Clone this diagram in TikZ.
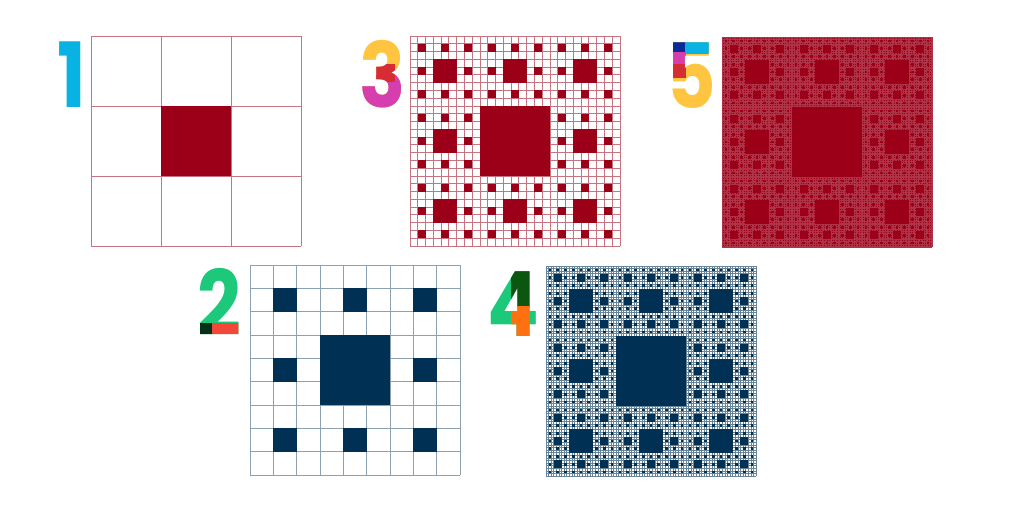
\documentclass[tikz,border=0pt]{standalone}
\usepackage{fontspec}
\usetikzlibrary{positioning,calc}
\newfontfamily\numfont{Poppins}
\definecolor{crimson}{RGB}{155,0,24}
\definecolor{navy}{RGB}{0,48,84}
\definecolor{cyan}{RGB}{8,178,226}
\definecolor{sun}{RGB}{255,197,64}
\definecolor{magenta}{RGB}{214,62,176}
\definecolor{tomato}{RGB}{214,44,52}
\definecolor{royal}{RGB}{12,42,150}
\definecolor{mint}{RGB}{28,200,122}
\definecolor{forest}{RGB}{6,48,24}
\definecolor{coral}{RGB}{242,72,58}
\definecolor{leaf}{RGB}{12,86,16}
\definecolor{orange}{RGB}{255,112,16}
\newcommand\digit[1]{\scalebox{0.85}[1]{#1}}
\tikzset{
  panel/.style={draw=none,inner sep=0pt,minimum size=210pt,anchor=south west},
  numeral/.style={font=\numfont\bfseries\fontsize{90}{90}\selectfont,inner sep=0pt,anchor=base east},
  redgrid/.style={draw=crimson!55,line width=0.8pt},
  bluegrid/.style={draw=navy!45,line width=0.8pt},
  redhole/.style={fill=crimson},
  bluehole/.style={fill=navy}
}
% grid of a carpet: lower left x, y, number of cells
\newcommand\carpetgrid[3]{%
  \pgfmathsetmacro\cellside{210/#3}%
  \foreach \k in {0,...,#3}{%
    \draw (#1+\k*\cellside,#2) -- ++(0,210);
    \draw (#1,#2+\k*\cellside) -- ++(210,0);
  }}
% holes of a carpet: lower left x, y, side, depth
\newcommand\carpetholes[4]{%
  \pgfmathsetmacro\holeside{#3/3}%
  \fill (#1+\holeside,#2+\holeside) rectangle ++(\holeside,\holeside);
  \ifnum#4>1
    \pgfmathtruncatemacro\holedepth{#4-1}%
    \foreach \hi in {0,1,2}{\foreach \hj in {0,1,2}{%
      \ifnum\hi\hj=11 \else
        \pgfmathsetmacro\hx{#1+\hi*\holeside}%
        \pgfmathsetmacro\hy{#2+\hj*\holeside}%
        \carpetholes{\hx}{\hy}{\holeside}{\holedepth}%
      \fi}}%
  \fi}
\begin{document}
\begin{tikzpicture}[x=1pt,y=1pt]
  \useasboundingbox (0,0) rectangle (1024,512);
  % panels
  \node[panel] (c1) at (91,266) {};
  \node[panel] (c3) at (410,266) {};
  \node[panel] (c5) at (722,265) {};
  \node[panel] (c2) at (250,37) {};
  \node[panel] (c4) at (546,36) {};
  % level 1
  \begin{scope}[redgrid]\carpetgrid{91}{266}{3}\end{scope}
  \begin{scope}[redhole]\carpetholes{91}{266}{210}{1}\end{scope}
  % level 3
  \begin{scope}[redgrid]\carpetgrid{410}{266}{27}\end{scope}
  \begin{scope}[redhole]\carpetholes{410}{266}{210}{3}\end{scope}
  % level 5
  \begin{scope}[redgrid,draw=crimson!80,line width=0.45pt]\carpetgrid{722}{265}{243}\end{scope}
  \begin{scope}[redhole]\carpetholes{722}{265}{210}{5}\end{scope}
  % level 2
  \begin{scope}[bluegrid]\carpetgrid{250}{37}{9}\end{scope}
  \begin{scope}[bluehole]\carpetholes{250}{37}{210}{2}\end{scope}
  % level 4
  \begin{scope}[bluegrid,draw=navy!60,line width=0.6pt]\carpetgrid{546}{36}{81}\end{scope}
  \begin{scope}[bluehole]\carpetholes{546}{36}{210}{4}\end{scope}
  % numerals
  \node[numeral,text=cyan] (n1) at ($(c1.north west)+(-5,-72)$) {\digit{1}};
  \node[numeral,text=sun] (n3) at ($(c3.north west)+(-4,-72)$) {\digit{3}};
  \begin{scope}
    \clip (350,370) rectangle (410,436);
    \node[numeral,text=magenta,anchor=center] at (n3.center) {\digit{3}};
  \end{scope}
  \begin{scope}
    \clip (370,430) rectangle (394,447);
    \node[numeral,text=tomato,anchor=center] at (n3.center) {\digit{3}};
  \end{scope}
  \node[numeral,text=sun] (n5) at ($(c5.north west)+(-6,-72)$) {\digit{5}};
  \begin{scope}
    \clip (665,459) rectangle (685,480);
    \node[numeral,text=royal,anchor=center] at (n5.center) {\digit{5}};
  \end{scope}
  \begin{scope}
    \clip (685,458) rectangle (720,480);
    \node[numeral,text=cyan,anchor=center] at (n5.center) {\digit{5}};
  \end{scope}
  \begin{scope}
    \clip (665,447) rectangle (685,459);
    \node[numeral,text=magenta,anchor=center] at (n5.center) {\digit{5}};
  \end{scope}
  \begin{scope}
    \clip (665,434) rectangle (685,447);
    \node[numeral,text=tomato,anchor=center] at (n5.center) {\digit{5}};
  \end{scope}
  \node[numeral,text=mint] (n2) at ($(c2.north west)+(-9,-71)$) {\digit{2}};
  \begin{scope}
    \clip (190,170) rectangle (212,189);
    \node[numeral,text=forest,anchor=center] at (n2.center) {\digit{2}};
  \end{scope}
  \begin{scope}
    \clip (212,170) rectangle (245,189);
    \node[numeral,text=coral,anchor=center] at (n2.center) {\digit{2}};
  \end{scope}
  \node[numeral,text=mint] (n4) at ($(c4.north west)+(-7,-71)$) {\digit{4}};
  \begin{scope}
    \clip (511,206) rectangle (529,250);
    \node[numeral,text=leaf,anchor=center] at (n4.center) {\digit{4}};
  \end{scope}
  \begin{scope}
    \clip (511,170) rectangle (529,206);
    \node[numeral,text=orange,anchor=center] at (n4.center) {\digit{4}};
  \end{scope}
\end{tikzpicture}
\end{document}
